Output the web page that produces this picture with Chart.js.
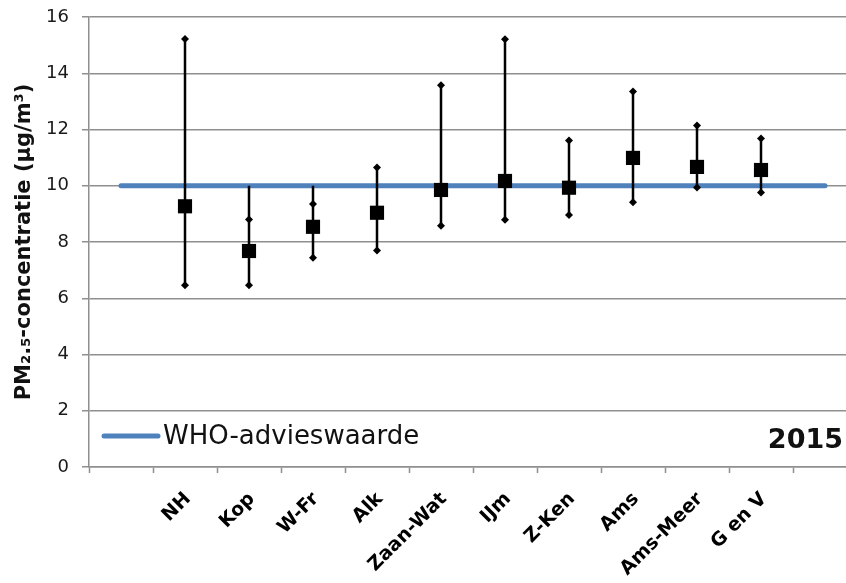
<!DOCTYPE html>
<html>
<head>
<meta charset="utf-8">
<script src="https://cdn.jsdelivr.net/npm/chart.js@4.4.1/dist/chart.umd.min.js"></script>
<style>
  html, body { margin: 0; padding: 0; background: #fff; overflow: hidden; }
  canvas { display: block; }
</style>
</head>
<body>
<canvas id="pmChart" width="846" height="583"></canvas>
<script>
// Categories (index 0 and 11 are empty slots where the WHO line starts/ends)
const regions = ['', 'NH', 'Kop', 'W-Fr', 'Alk', 'Zaan-Wat', 'IJm', 'Z-Ken', 'Ams', 'Ams-Meer', 'G en V', ''];

// PM2.5 values per region (NH .. G en V)
const meanValues = [9.27, 7.68, 8.54, 9.04, 9.85, 10.17, 9.93, 10.99, 10.67, 10.56];
const lowValues  = [6.46, 6.46, 7.44, 7.70, 8.58, 8.79, 8.96, 9.41, 9.94, 9.76];
const highValues = [15.22, 10.0, 10.0, 10.65, 13.57, 15.21, 11.61, 13.35, 12.14, 11.68];
const upperMarks = [15.22, 8.80, 9.35, 10.65, 13.57, 15.21, 11.61, 13.35, 12.14, 11.68];

const whoLimit = 10;
const yearLabel = '2015';
const yTicks = [0, 2, 4, 6, 8, 10, 12, 14, 16];

const gridColor = '#8f8f8f';
const whoColor = '#4f81bd';

// build whisker segments, separated by null gaps
const whiskerData = [];
lowValues.forEach((lo, i) => {
    whiskerData.push({ x: i + 1, y: lo });
    whiskerData.push({ x: i + 1, y: highValues[i] });
    whiskerData.push({ x: i + 1, y: null });
});
const markData = [];
lowValues.forEach((lo, i) => {
    markData.push({ x: i + 1, y: lo });
    markData.push({ x: i + 1, y: upperMarks[i] });
});
const meanData = meanValues.map((v, i) => ({ x: i + 1, y: v }));
const whoData = [{ x: 0, y: whoLimit }, { x: regions.length - 1, y: whoLimit }];

// legend inside the plot + year label
const insideLegend = {
    id: 'insideLegend',
    afterDraw(chart) {
        const ctx = chart.ctx;
        const area = chart.chartArea;
        const ds = chart.data.datasets.find(d => d.isWho);
        const y = area.bottom - 31;
        ctx.save();
        ctx.strokeStyle = ds.borderColor;
        ctx.lineWidth = 5;
        ctx.lineCap = 'round';
        ctx.beginPath();
        ctx.moveTo(area.left + 15, y);
        ctx.lineTo(area.left + 69, y);
        ctx.stroke();
        ctx.fillStyle = '#111';
        ctx.font = '26px "DejaVu Sans"';
        ctx.textAlign = 'left';
        ctx.textBaseline = 'middle';
        ctx.fillText(ds.label, area.left + 74, y + 1);
        ctx.font = 'bold 27px "DejaVu Sans"';
        ctx.textAlign = 'right';
        ctx.textBaseline = 'alphabetic';
        ctx.fillText(yearLabel, 843, area.bottom - 19);
        ctx.restore();
    }
};

const ctx = document.getElementById('pmChart').getContext('2d');
new Chart(ctx, {
    type: 'line',
    data: {
        datasets: [
            {
                label: 'gemiddeld',
                data: meanData,
                showLine: false,
                pointStyle: 'rect',
                pointRadius: 10,
                pointBackgroundColor: '#000',
                pointBorderWidth: 0,
                order: 1
            },
            {
                label: 'min/max',
                data: markData,
                showLine: false,
                pointStyle: 'rectRot',
                pointRadius: 4,
                pointBackgroundColor: '#000',
                pointBorderWidth: 0,
                order: 2
            },
            {
                label: 'spreiding',
                data: whiskerData,
                borderColor: '#000',
                borderWidth: 2.5,
                pointRadius: 0,
                spanGaps: false,
                order: 3
            },
            {
                label: 'WHO-advieswaarde',
                isWho: true,
                data: whoData,
                borderColor: whoColor,
                borderWidth: 5,
                borderCapStyle: 'round',
                pointRadius: 0,
                order: 4
            }
        ]
    },
    options: {
        responsive: false,
        animation: false,
        devicePixelRatio: 1,
        layout: { autoPadding: false, padding: { top: 17, right: 0, left: 0, bottom: 0 } },
        plugins: {
            legend: { display: false },
            tooltip: { enabled: false }
        },
        scales: {
            x: {
                type: 'linear',
                bounds: 'data',
                min: -0.5,
                max: -0.5 + 757 / 64,
                afterBuildTicks: function(scale) {
                    const ticks = [];
                    for (let i = 0; i < regions.length; i++) {
                        ticks.push({ value: i - 0.5 });
                        ticks.push({ value: i });
                    }
                    scale.ticks = ticks.filter(t => t.value <= scale.max);
                },
                afterFit: function(scale) {
                    scale.height = 116;
                    scale.paddingLeft = 0;
                    scale.paddingRight = 0;
                },
                grid: {
                    drawOnChartArea: false,
                    tickLength: 6,
                    tickWidth: 1.5,
                    tickColor: c => (c.tick && Number.isInteger(c.tick.value)) ? 'rgba(0,0,0,0)' : gridColor
                },
                border: { color: gridColor, width: 1.5 },
                ticks: {
                    autoSkip: false,
                    minRotation: 45,
                    maxRotation: 45,
                    padding: 15,
                    labelOffset: 3,
                    color: '#000',
                    font: { family: 'DejaVu Sans', size: 19, weight: 'bold' },
                    callback: function(value) {
                        return Number.isInteger(value) ? regions[value] : '';
                    }
                }
            },
            y: {
                min: 0,
                max: 16,
                afterBuildTicks: function(scale) {
                    scale.ticks = yTicks.map(v => ({ value: v }));
                },
                afterFit: function(scale) {
                    scale.width = 89;
                    scale.paddingTop = 0;
                    scale.paddingBottom = 0;
                },
                grid: {
                    color: gridColor,
                    lineWidth: 1.5,
                    tickLength: 7
                },
                border: { color: gridColor, width: 1.5 },
                ticks: {
                    padding: 13,
                    color: '#1a1a1a',
                    font: { family: 'DejaVu Sans', size: 18 }
                },
                title: {
                    display: true,
                    text: 'PM₂.₅-concentratie (µg/m³)',
                    color: '#111',
                    font: { family: 'DejaVu Sans', size: 21, weight: 'bold' },
                    padding: { top: 12, bottom: 0 }
                }
            }
        }
    },
    plugins: [insideLegend]
});
</script>
</body>
</html>
